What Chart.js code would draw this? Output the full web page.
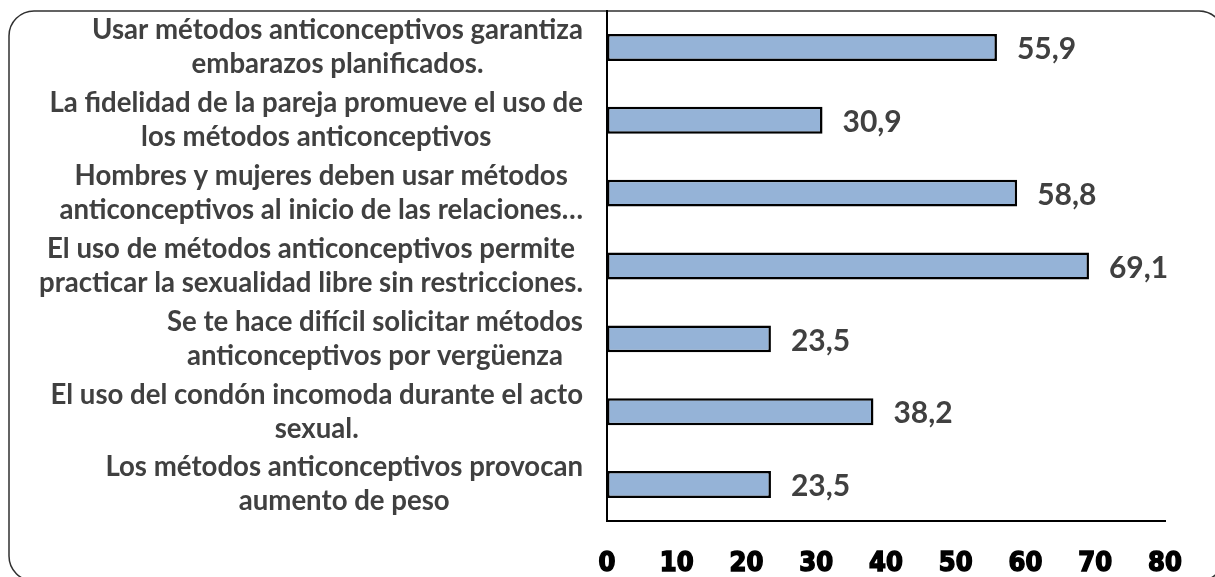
<!DOCTYPE html>
<html>
<head>
<meta charset="utf-8">
<script src="https://cdn.jsdelivr.net/npm/chart.js@4/dist/chart.umd.min.js"></script>
<style>
  html, body { margin: 0; padding: 0; background: #ffffff; }
  #wrap { width: 1215px; height: 577px; position: relative; }
</style>
</head>
<body>
<div id="wrap"><canvas id="c" width="1215" height="577"></canvas></div>
<script>
const categories = [
  ["Usar métodos anticonceptivos garantiza", "embarazos planificados."],
  ["La fidelidad de la pareja promueve el uso de", "los métodos anticonceptivos"],
  ["Hombres y mujeres deben usar métodos", "anticonceptivos al inicio de las relaciones…"],
  ["El uso de métodos anticonceptivos permite", "practicar la sexualidad libre sin restricciones."],
  ["Se te hace difícil solicitar métodos", "anticonceptivos por vergüenza"],
  ["El uso del condón incomoda durante el acto", "sexual."],
  ["Los métodos anticonceptivos provocan", "aumento de peso"]
];
const percentages = [55.9, 30.9, 58.8, 69.1, 23.5, 38.2, 23.5];
const xTickValues = [0, 10, 20, 30, 40, 50, 60, 70, 80];

const LABEL_FONT = 'bold 27.6px Lato';
const LABEL_COLOR = '#404040';

const frame = {
  id: 'frame',
  beforeDraw(chart) {
    const ctx = chart.ctx;
    ctx.save();
    ctx.strokeStyle = '#303030';
    ctx.lineWidth = 1.5;
    ctx.beginPath();
    ctx.roundRect(9, 11, 1215, 570, 25);
    ctx.stroke();
    ctx.restore();
  }
};

const catLabels = {
  id: 'catLabels',
  afterDraw(chart) {
    const ctx = chart.ctx;
    const y = chart.scales.y;
    const rightEdge = chart.chartArea.left - 24;
    const lineH = 34;
    ctx.save();
    ctx.font = LABEL_FONT;
    ctx.fillStyle = LABEL_COLOR;
    ctx.textAlign = 'center';
    ctx.textBaseline = 'middle';
    categories.forEach((lines, i) => {
      const cy = y.getPixelForValue(i);
      const widest = Math.max(...lines.map(l => ctx.measureText(l).width));
      const cx = rightEdge - widest / 2;
      const y0 = cy - (lines.length - 1) * lineH / 2;
      lines.forEach((l, k) => ctx.fillText(l, cx, y0 + k * lineH));
    });
    ctx.restore();
  }
};

const valueLabels = {
  id: 'valueLabels',
  afterDatasetsDraw(chart) {
    const ctx = chart.ctx;
    const meta = chart.getDatasetMeta(0);
    ctx.save();
    ctx.font = 'bold 30px Lato';
    ctx.fillStyle = LABEL_COLOR;
    ctx.textAlign = 'left';
    ctx.textBaseline = 'middle';
    meta.data.forEach((bar, i) => {
      const txt = percentages[i].toFixed(1).replace('.', ',');
      ctx.fillText(txt, bar.x + 20, bar.y + 2);
    });
    ctx.restore();
  }
};

new Chart(document.getElementById('c'), {
  type: 'bar',
  data: {
    labels: categories,
    datasets: [{
      data: percentages,
      backgroundColor: '#95B3D7',
      borderColor: '#000000',
      borderWidth: 2.5,
      borderSkipped: false,
      barPercentage: 0.74,
      categoryPercentage: 0.5
    }]
  },
  options: {
    indexAxis: 'y',
    responsive: false,
    animation: false,
    devicePixelRatio: 1,
    layout: { padding: { top: 11, right: 50, left: 0, bottom: 0 } },
    plugins: { legend: { display: false }, tooltip: { enabled: false } },
    scales: {
      x: {
        min: 0, max: 80,
        grid: { display: false, drawTicks: false },
        border: { display: true, color: '#000000', width: 2 },
        afterBuildTicks(s) { s.ticks = xTickValues.map(v => ({ value: v })); },
        afterFit(s) { s.height = 56; },
        ticks: {
          padding: 27,
          color: '#000000',
          textStrokeColor: '#000000',
          textStrokeWidth: 1.5,
          font: { family: 'DejaVu Sans Condensed', weight: 'bold', size: 27 }
        }
      },
      y: {
        grid: { display: false, drawTicks: false },
        border: { display: true, color: '#000000', width: 2 },
        ticks: { display: false },
        afterFit(s) { s.width = 607; }
      }
    }
  },
  plugins: [frame, catLabels, valueLabels]
});
</script>
</body>
</html>
